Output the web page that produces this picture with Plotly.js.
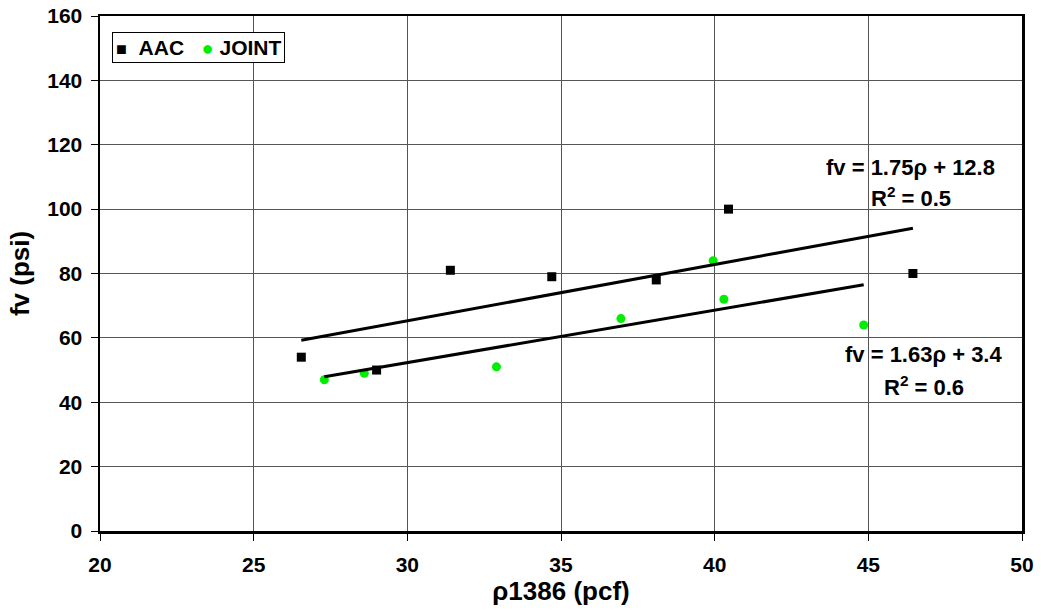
<!DOCTYPE html>
<html>
<head>
<meta charset="utf-8">
<script src="https://cdn.plot.ly/plotly-3.0.1.min.js"></script>
<style>
  html, body { margin: 0; padding: 0; background: #fff; }
  #chart { width: 1041px; height: 616px; }
</style>
</head>
<body>
<div id="chart"></div>
<script>
// Shear strength fv against density, AAC units and mortar joints
const aacDensity   = [26.55, 29.0, 31.4, 34.7, 38.1, 40.45, 46.45];
const aacStrength  = [54, 50, 81, 79, 78, 100, 80];
const jointDensity  = [27.3, 28.6, 32.9, 36.95, 39.95, 40.3, 44.85];
const jointStrength = [47, 49, 51, 66, 84, 72, 64];

// Linear fits, fv = slope * rho + intercept, over the span of each data set
const aacFit   = { slope: 1.75, intercept: 12.8, r2: 0.5, from: 26.55, to: 46.45 };
const jointFit = { slope: 1.63, intercept: 3.4,  r2: 0.6, from: 27.3,  to: 44.85 };

const xTicks = [20, 25, 30, 35, 40, 45, 50];
const yTicks = [0, 20, 40, 60, 80, 100, 120, 140, 160];

const seriesNames  = ['AAC', 'JOINT'];
const seriesColors = ['#000000', '#00ee00'];

const FONT = 'Liberation Sans, Arial, Helvetica, sans-serif';

function fitLine(f) {
  const xs = [f.from, f.to];
  return { x: xs, y: xs.map(v => f.slope * v + f.intercept) };
}

const aacLine = fitLine(aacFit);
const jointLine = fitLine(jointFit);

const traces = [
  {
    x: aacDensity, y: aacStrength, name: seriesNames[0], type: 'scatter', mode: 'markers',
    marker: { symbol: 'square', size: 9, color: seriesColors[0] }
  },
  {
    x: jointDensity, y: jointStrength, name: seriesNames[1], type: 'scatter', mode: 'markers',
    marker: { symbol: 'circle', size: 9, color: seriesColors[1] }
  },
  {
    x: aacLine.x, y: aacLine.y, type: 'scatter', mode: 'lines',
    line: { color: '#000000', width: 3 }, hoverinfo: 'skip'
  },
  {
    x: jointLine.x, y: jointLine.y, type: 'scatter', mode: 'lines',
    line: { color: '#000000', width: 3 }, hoverinfo: 'skip'
  }
];

function eqText(f) {
  return 'fv = ' + f.slope.toFixed(2) + '\u03c1 + ' + f.intercept;
}

const annFont = { family: FONT, size: 22, color: '#000', weight: 'bold' };

// compact boxed key: symbol glyph + series name
const NB = '\u00a0';
const keyText =
  '<span style="color:' + seriesColors[0] + ';font-size:18px">\u25a0</span>' + NB + NB + seriesNames[0] +
  NB + NB + NB + '<span style="color:' + seriesColors[1] + ';font-size:20px">\u25cf</span>' + NB + seriesNames[1];

const layout = {
  width: 1041, height: 616,
  margin: { l: 100, r: 19, t: 16, b: 85 },
  paper_bgcolor: '#ffffff', plot_bgcolor: '#ffffff',
  font: { family: FONT, size: 21, color: '#000', weight: 'bold' },
  showlegend: false,
  xaxis: {
    range: [20, 50], tickvals: xTicks, ticktext: xTicks.map(String),
    showgrid: true, gridcolor: '#555555', gridwidth: 1,
    zeroline: false, showline: true, linecolor: '#000000', linewidth: 2.5, mirror: true,
    ticks: 'outside', ticklen: 7, tickcolor: '#000000', tickwidth: 1,
    ticklabelstandoff: 6,
    tickfont: { family: FONT, size: 21, color: '#000', weight: 'bold' },
    title: { text: '\u03c11386 (pcf)', font: { family: FONT, size: 26, color: '#000', weight: 'bold' }, standoff: 4 }
  },
  yaxis: {
    range: [0, 160], tickvals: yTicks, ticktext: yTicks.map(String),
    showgrid: true, gridcolor: '#555555', gridwidth: 1,
    zeroline: false, showline: true, linecolor: '#000000', linewidth: 2.5, mirror: true,
    ticks: 'outside', ticklen: 7, tickcolor: '#000000', tickwidth: 1,
    ticklabelstandoff: 4,
    tickfont: { family: FONT, size: 21, color: '#000', weight: 'bold' },
    title: { text: 'fv (psi)', font: { family: FONT, size: 26, color: '#000', weight: 'bold' }, standoff: 10 }
  },
  annotations: [
    {
      x: 0.013, y: 0.969, xref: 'paper', yref: 'paper', xanchor: 'left', yanchor: 'top',
      text: keyText, showarrow: false, align: 'left',
      font: { family: FONT, size: 21, color: '#000', weight: 'bold' },
      bgcolor: '#ffffff', bordercolor: '#000000', borderwidth: 1, borderpad: 3
    },
    { x: 46.38, y: 113, xref: 'x', yref: 'y', text: eqText(aacFit), showarrow: false, font: annFont },
    { x: 46.4, y: 103.7, xref: 'x', yref: 'y', text: 'R<sup>2</sup> = ' + aacFit.r2, showarrow: false, font: annFont },
    { x: 46.8, y: 54.9, xref: 'x', yref: 'y', text: eqText(jointFit), showarrow: false, font: annFont },
    { x: 46.8, y: 45.0, xref: 'x', yref: 'y', text: 'R<sup>2</sup> = ' + jointFit.r2, showarrow: false, font: annFont }
  ]
};

Plotly.newPlot('chart', traces, layout, { displayModeBar: false, staticPlot: true });
</script>
</body>
</html>
